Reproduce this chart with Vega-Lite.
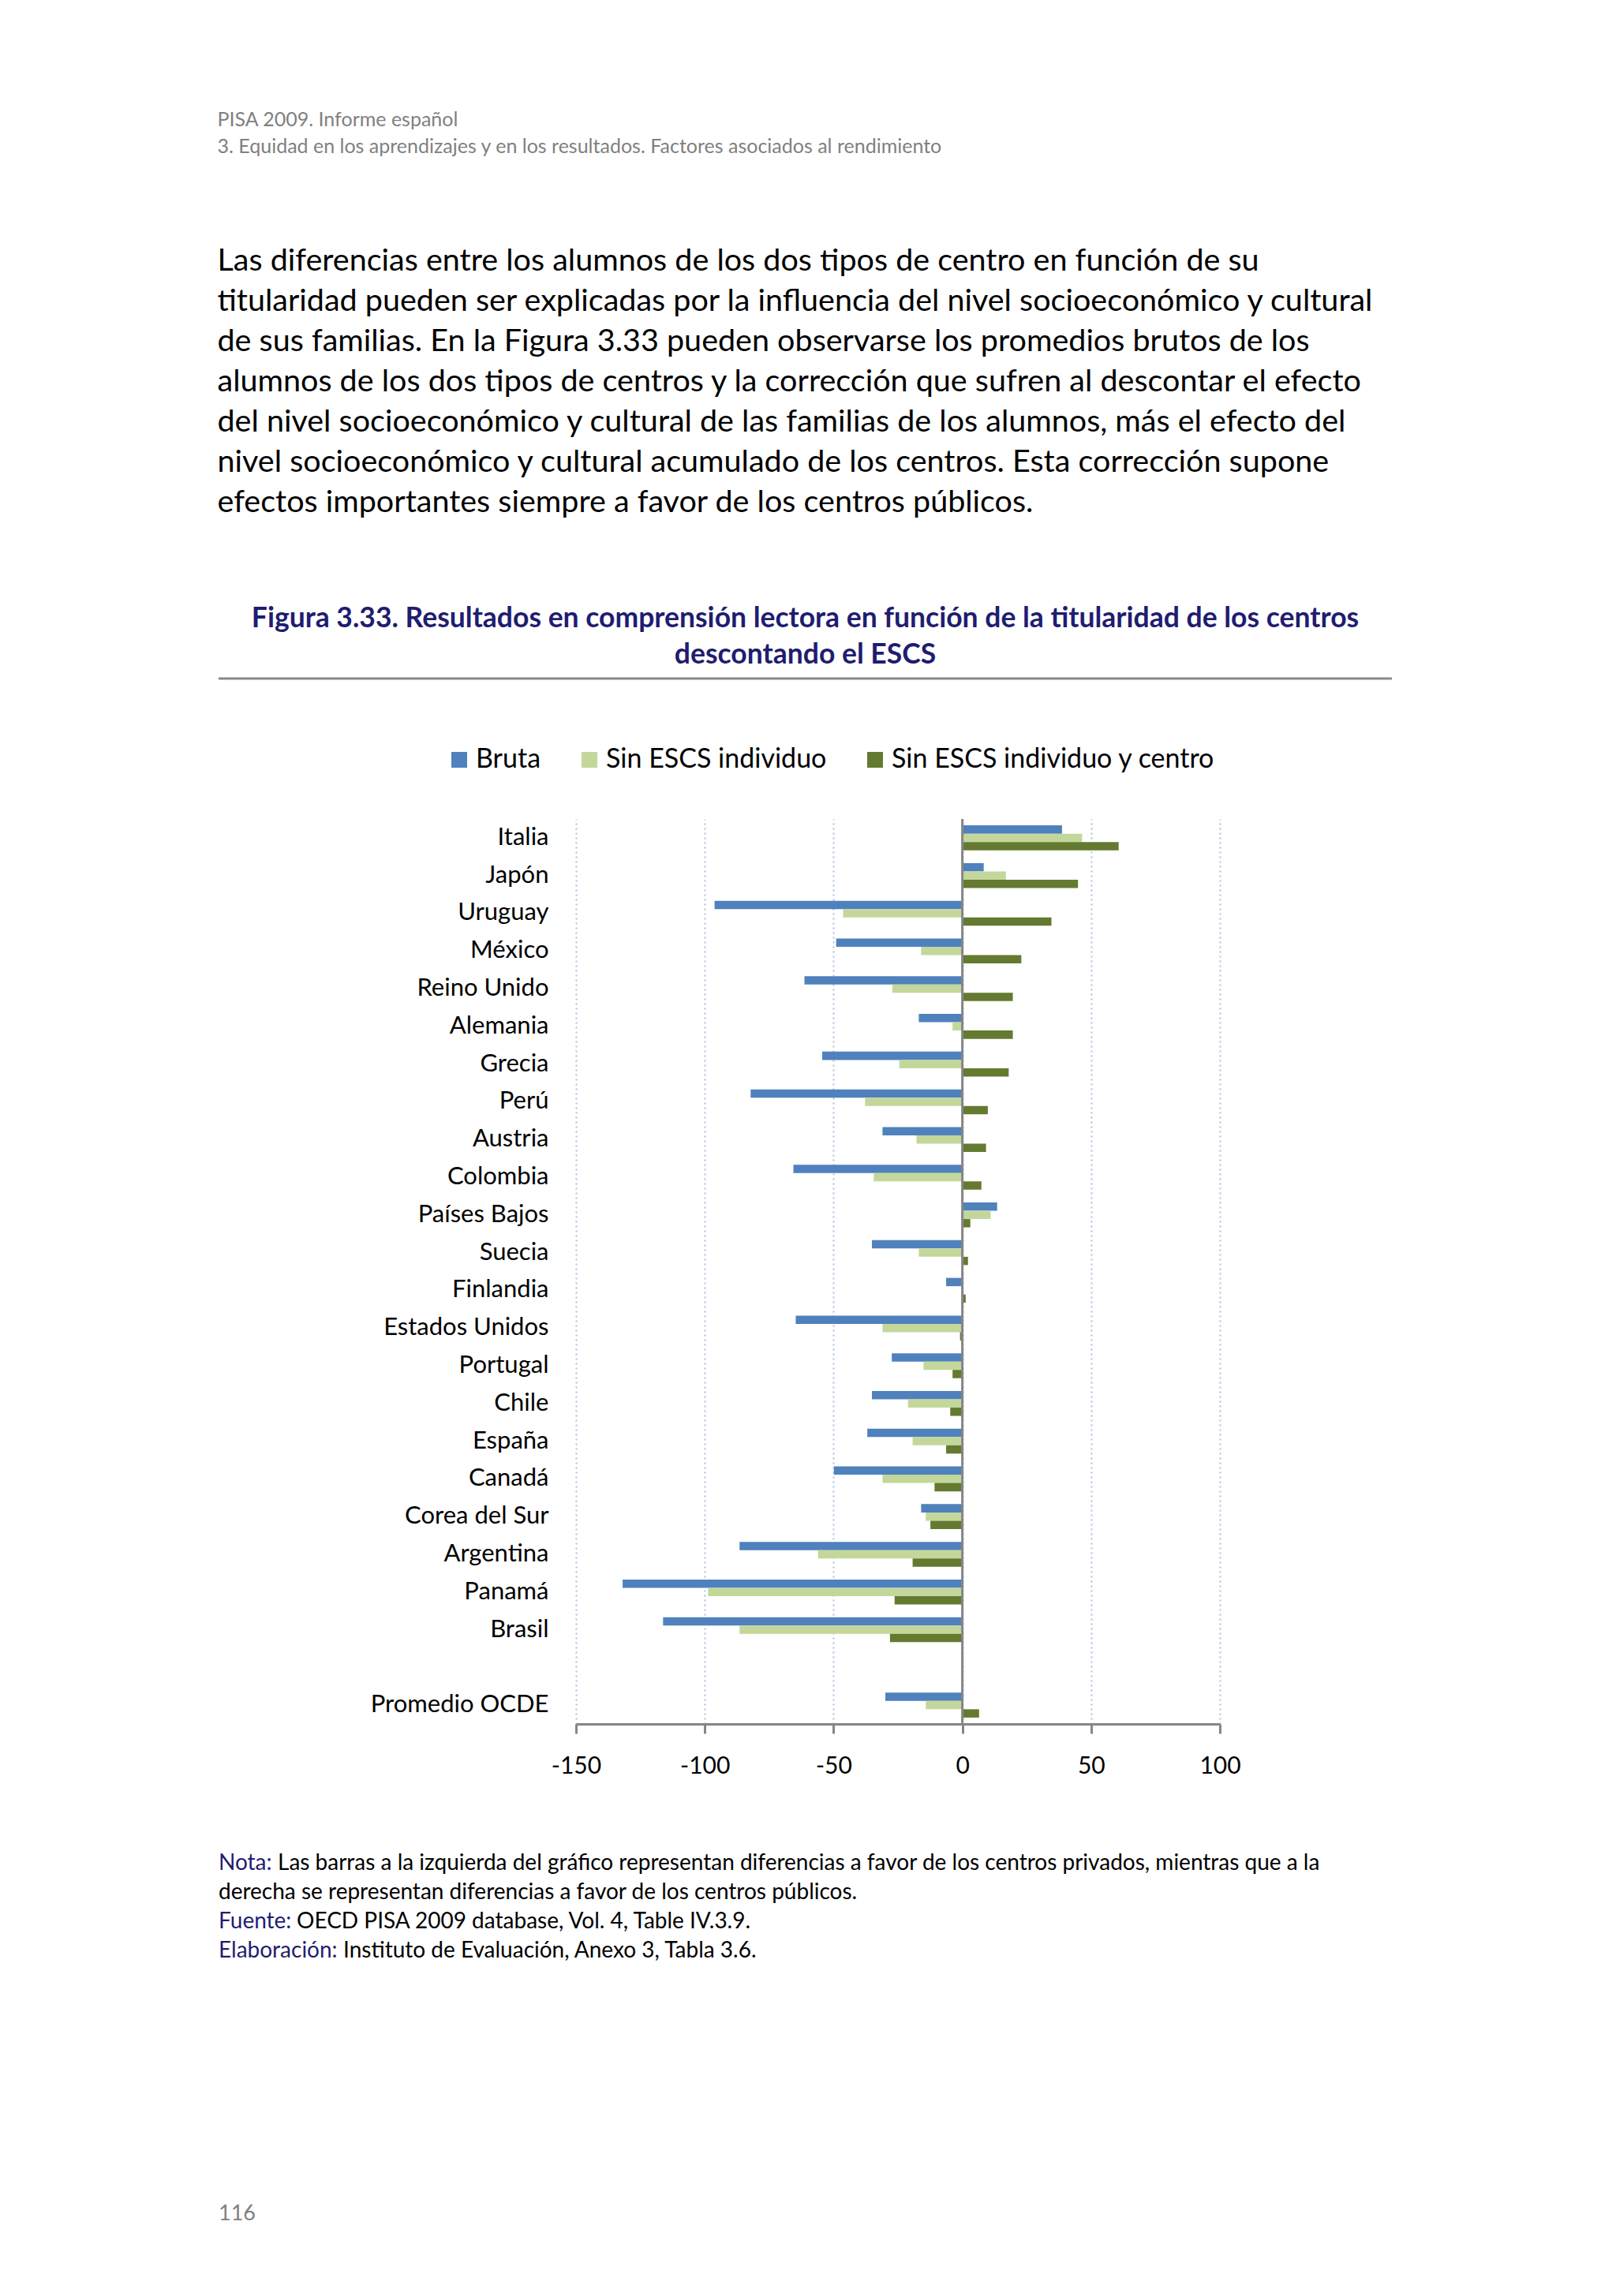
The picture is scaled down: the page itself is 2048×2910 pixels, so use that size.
{
  "$schema": "https://vega.github.io/schema/vega-lite/v6.json",
  "background": "white",
  "padding": {"left": 275, "top": 139, "right": 10, "bottom": 10},
  "datasets": {
    "resultados": [
      {"pais": "Italia", "Bruta": 38.7, "Sin ESCS individuo": 46.5, "Sin ESCS individuo y centro": 60.7},
      {"pais": "Japón", "Bruta": 8.3, "Sin ESCS individuo": 16.9, "Sin ESCS individuo y centro": 44.9},
      {"pais": "Uruguay", "Bruta": -96.2, "Sin ESCS individuo": -46.3, "Sin ESCS individuo y centro": 34.6},
      {"pais": "México", "Bruta": -49.0, "Sin ESCS individuo": -16.0, "Sin ESCS individuo y centro": 22.9},
      {"pais": "Reino Unido", "Bruta": -61.3, "Sin ESCS individuo": -27.2, "Sin ESCS individuo y centro": 19.6},
      {"pais": "Alemania", "Bruta": -16.9, "Sin ESCS individuo": -3.8, "Sin ESCS individuo y centro": 19.6},
      {"pais": "Grecia", "Bruta": -54.4, "Sin ESCS individuo": -24.5, "Sin ESCS individuo y centro": 18.0},
      {"pais": "Perú", "Bruta": -82.2, "Sin ESCS individuo": -37.8, "Sin ESCS individuo y centro": 9.9},
      {"pais": "Austria", "Bruta": -31.0, "Sin ESCS individuo": -17.8, "Sin ESCS individuo y centro": 9.2},
      {"pais": "Colombia", "Bruta": -65.6, "Sin ESCS individuo": -34.4, "Sin ESCS individuo y centro": 7.4},
      {"pais": "Países Bajos", "Bruta": 13.5, "Sin ESCS individuo": 11.0, "Sin ESCS individuo y centro": 3.1},
      {"pais": "Suecia", "Bruta": -35.1, "Sin ESCS individuo": -16.9, "Sin ESCS individuo y centro": 2.2},
      {"pais": "Finlandia", "Bruta": -6.3, "Sin ESCS individuo": 0, "Sin ESCS individuo y centro": 1.3},
      {"pais": "Estados Unidos", "Bruta": -64.7, "Sin ESCS individuo": -31.0, "Sin ESCS individuo y centro": -0.9},
      {"pais": "Portugal", "Bruta": -27.4, "Sin ESCS individuo": -15.1, "Sin ESCS individuo y centro": -3.8},
      {"pais": "Chile", "Bruta": -35.1, "Sin ESCS individuo": -21.1, "Sin ESCS individuo y centro": -4.7},
      {"pais": "España", "Bruta": -36.9, "Sin ESCS individuo": -19.3, "Sin ESCS individuo y centro": -6.3},
      {"pais": "Canadá", "Bruta": -49.9, "Sin ESCS individuo": -31.0, "Sin ESCS individuo y centro": -10.8},
      {"pais": "Corea del Sur", "Bruta": -16.0, "Sin ESCS individuo": -14.2, "Sin ESCS individuo y centro": -12.4},
      {"pais": "Argentina", "Bruta": -86.5, "Sin ESCS individuo": -56.0, "Sin ESCS individuo y centro": -19.3},
      {"pais": "Panamá", "Bruta": -131.9, "Sin ESCS individuo": -98.7, "Sin ESCS individuo y centro": -26.3},
      {"pais": "Brasil", "Bruta": -116.2, "Sin ESCS individuo": -86.5, "Sin ESCS individuo y centro": -28.1},
      {"pais": "Promedio OCDE", "Bruta": -29.9, "Sin ESCS individuo": -14.2, "Sin ESCS individuo y centro": 6.5}
    ],
    "notas": [
      {"linea": 1, "etiqueta": "Nota:", "cuerpo": "Las barras a la izquierda del gráfico representan diferencias a favor de los centros privados, mientras que a la"},
      {"linea": 2, "etiqueta": "", "cuerpo": "derecha se representan diferencias a favor de los centros públicos."},
      {"linea": 3, "etiqueta": "Fuente:", "cuerpo": "OECD PISA 2009 database, Vol. 4, Table IV.3.9."},
      {"linea": 4, "etiqueta": "Elaboración:", "cuerpo": "Instituto de Evaluación, Anexo 3, Tabla 3.6."}
    ],
    "pagina": [
      {"linea": 13, "texto": "116"}
    ]
  },
  "title": {
    "text": ["PISA 2009. Informe español", "3. Equidad en los aprendizajes y en los resultados. Factores asociados al rendimiento"],
    "subtitle": [
      "Las diferencias entre los alumnos de los dos tipos de centro en función de su",
      "titularidad pueden ser explicadas por la influencia del nivel socioeconómico y cultural",
      "de sus familias. En la Figura 3.33 pueden observarse los promedios brutos de los",
      "alumnos de los dos tipos de centros y la corrección que sufren al descontar el efecto",
      "del nivel socioeconómico y cultural de las familias de los alumnos, más el efecto del",
      "nivel socioeconómico y cultural acumulado de los centros. Esta corrección supone",
      "efectos importantes siempre a favor de los centros públicos."
    ],
    "anchor": "start",
    "font": "Lato",
    "fontSize": 25,
    "fontWeight": "normal",
    "color": "#808080",
    "lineHeight": 34,
    "subtitleFont": "Lato",
    "subtitleFontSize": 39.5,
    "subtitleFontWeight": "normal",
    "subtitleColor": "#000000",
    "subtitleLineHeight": 51,
    "subtitlePadding": 113,
    "offset": 111
  },
  "concat": [
    {
      "width": 1487,
      "height": 86,
      "data": {"values": [{}]},
      "title": {
        "text": ["Figura 3.33. Resultados en comprensión lectora en función de la titularidad de los centros", "descontando el ESCS"],
        "anchor": "middle",
        "font": "Lato",
        "fontSize": 35.5,
        "fontWeight": "bold",
        "color": "#1f1d70",
        "lineHeight": 46,
        "offset": 10
      },
      "mark": {"type": "rule", "color": "#8a8a8a", "strokeWidth": 3},
      "encoding": {
        "y": {"datum": 1, "type": "quantitative", "scale": {"domain": [0, 1]}, "axis": null}
      }
    },
    {
      "width": 1269,
      "height": 1147,
      "layer": [
        {
          "data": {"name": "resultados"},
          "transform": [{"fold": ["Bruta", "Sin ESCS individuo", "Sin ESCS individuo y centro"], "as": ["serie", "valor"]}],
          "mark": {"type": "bar"},
          "encoding": {
            "y": {
              "field": "pais",
              "type": "nominal",
              "scale": {
                "domain": ["Italia", "Japón", "Uruguay", "México", "Reino Unido", "Alemania", "Grecia", "Perú", "Austria", "Colombia", "Países Bajos", "Suecia", "Finlandia", "Estados Unidos", "Portugal", "Chile", "España", "Canadá", "Corea del Sur", "Argentina", "Panamá", "Brasil", " ", "Promedio OCDE"],
                "paddingInner": 0.34,
                "paddingOuter": 0.17
              },
              "axis": {
                "title": null,
                "offset": -418,
                "domain": false,
                "ticks": false,
                "grid": false,
                "labelFont": "Lato",
                "labelFontSize": 31,
                "labelLimit": 400,
                "labelColor": "#000000",
                "labelPadding": 0
              }
            },
            "yOffset": {
              "field": "serie",
              "type": "nominal",
              "sort": ["Bruta", "Sin ESCS individuo", "Sin ESCS individuo y centro"],
              "scale": {"paddingInner": 0, "paddingOuter": 0}
            },
            "x": {
              "field": "valor",
              "type": "quantitative",
              "scale": {"domain": [-150, 100], "range": [453, 1269], "nice": false},
              "axis": {
                "values": [-150, -100, -50, 0, 50, 100],
                "labelExpr": "toString(datum.value)",
                "title": null,
                "grid": true,
                "gridColor": "#a9c0e0",
                "gridDash": [2, 4],
                "gridWidth": 2,
                "domainColor": "#868686",
                "domainWidth": 3,
                "tickColor": "#868686",
                "tickWidth": 3,
                "tickSize": 12,
                "labelFlush": false,
                "labelFont": "Lato",
                "labelFontSize": 30,
                "labelColor": "#000000",
                "labelPadding": 26
              }
            },
            "color": {
              "field": "serie",
              "type": "nominal",
              "scale": {
                "domain": ["Bruta", "Sin ESCS individuo", "Sin ESCS individuo y centro"],
                "range": ["#4f81bd", "#c4d79b", "#647a30"]
              },
              "legend": {
                "orient": "none",
                "legendX": 288,
                "legendY": 86,
                "direction": "horizontal",
                "title": null,
                "symbolType": "square",
                "symbolSize": 400,
                "symbolStrokeWidth": 0,
                "labelFont": "Lato",
                "labelFontSize": 34,
                "labelColor": "#000000",
                "labelLimit": 0,
                "labelOffset": 4,
                "columnPadding": 44
              }
            }
          }
        },
        {
          "data": {"values": [{}]},
          "mark": {"type": "rule", "color": "#868686", "strokeWidth": 3},
          "encoding": {"x": {"datum": 0, "type": "quantitative"}}
        }
      ]
    },
    {
      "width": 1487,
      "height": 481,
      "encoding": {
        "y": {"field": "linea", "type": "ordinal", "scale": {"type": "point", "domain": [1, 2, 3, 4, 5, 6, 7, 8, 9, 10, 11, 12, 13], "padding": 0.5}, "axis": null},
        "x": {"datum": 0, "type": "quantitative", "scale": {"domain": [0, 1]}, "axis": null}
      },
      "layer": [
        {
          "data": {"name": "notas"},
          "mark": {"type": "text", "align": "left", "baseline": "middle", "font": "Lato", "fontSize": 28, "color": "#1f1d70"},
          "encoding": {"text": {"field": "etiqueta"}}
        },
        {
          "data": {"name": "notas"},
          "transform": [{"filter": "datum.linea == 1"}],
          "mark": {"type": "text", "align": "left", "baseline": "middle", "font": "Lato", "fontSize": 28, "color": "#000000", "dx": 75},
          "encoding": {"text": {"field": "cuerpo"}}
        },
        {
          "data": {"name": "notas"},
          "transform": [{"filter": "datum.linea == 2"}],
          "mark": {"type": "text", "align": "left", "baseline": "middle", "font": "Lato", "fontSize": 28, "color": "#000000"},
          "encoding": {"text": {"field": "cuerpo"}}
        },
        {
          "data": {"name": "notas"},
          "transform": [{"filter": "datum.linea == 3"}],
          "mark": {"type": "text", "align": "left", "baseline": "middle", "font": "Lato", "fontSize": 28, "color": "#000000", "dx": 99},
          "encoding": {"text": {"field": "cuerpo"}}
        },
        {
          "data": {"name": "notas"},
          "transform": [{"filter": "datum.linea == 4"}],
          "mark": {"type": "text", "align": "left", "baseline": "middle", "font": "Lato", "fontSize": 28, "color": "#000000", "dx": 158},
          "encoding": {"text": {"field": "cuerpo"}}
        },
        {
          "data": {"name": "pagina"},
          "mark": {"type": "text", "align": "left", "baseline": "middle", "font": "Lato", "fontSize": 27, "color": "#7f7f7f"},
          "encoding": {"text": {"field": "texto"}}
        }
      ]
    }
  ],
  "columns": 1,
  "spacing": 90,
  "config": {
    "view": {"stroke": null},
    "font": "Lato"
  }
}
